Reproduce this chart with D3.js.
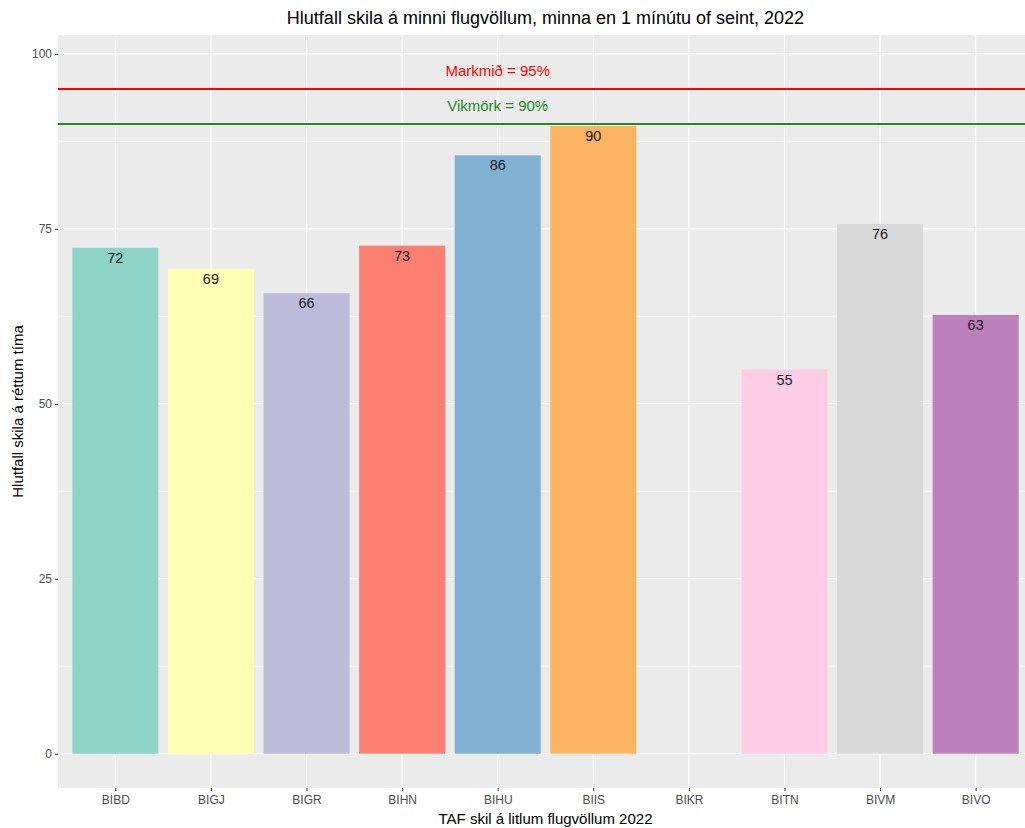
<!DOCTYPE html>
<html><head><meta charset="utf-8">
<script src="https://cdn.jsdelivr.net/npm/d3@7"></script>
<style>body{margin:0;background:#fff;} text{font-family:"Liberation Sans",Arial,sans-serif;}</style>
</head><body>
<svg id="c" width="1025" height="828"></svg>
<script>
const categories = ["BIBD","BIGJ","BIGR","BIHN","BIHU","BIIS","BIKR","BITN","BIVM","BIVO"];
const values = [72.3, 69.3, 65.8, 72.6, 85.5, 89.7, null, 54.9, 75.7, 62.7];
const colors = ["#8DD3C7","#FFFFB3","#BEBADA","#FB8072","#80B1D3","#FDB462","#B3DE69","#FCCDE5","#D9D9D9","#BC80BD"];
const yTicks = [0, 25, 50, 75, 100];
const yMinor = [12.5, 37.5, 62.5, 87.5];
const refLines = [{v:95, label:"Markmið = 95%", color:"#FF0000", labelV:97.5},
                  {v:90, label:"Vikmörk = 90%", color:"#228B22", labelV:92.5}];
const title = "Hlutfall skila á minni flugvöllum, minna en 1 mínútu of seint, 2022";
const xTitle = "TAF skil á litlum flugvöllum 2022";
const yTitle = "Hlutfall skila á réttum tíma";

const svg = d3.select("#c");
const L = 58, R = 1033, T = 35, B = 788;
const x = d3.scaleLinear().domain([0.4, categories.length + 0.6]).range([L, R]);
const y = d3.scaleLinear().domain([-4.9, 102.7]).range([B, T]);

svg.append("rect").attr("x", L).attr("y", T).attr("width", R - L).attr("height", B - T).attr("fill", "#EBEBEB");
const g = svg.append("g");
g.selectAll(".ymin").data(yMinor).join("line").attr("class", "ymin")
  .attr("x1", L).attr("x2", R).attr("y1", d => y(d)).attr("y2", d => y(d))
  .attr("stroke", "#fff").attr("stroke-width", 0.55);
g.selectAll(".ymaj").data(yTicks).join("line").attr("class", "ymaj")
  .attr("x1", L).attr("x2", R).attr("y1", d => y(d)).attr("y2", d => y(d))
  .attr("stroke", "#fff").attr("stroke-width", 1.1);
g.selectAll(".xmaj").data(categories).join("line").attr("class", "xmaj")
  .attr("x1", (d, i) => x(i + 1)).attr("x2", (d, i) => x(i + 1)).attr("y1", T).attr("y2", B)
  .attr("stroke", "#fff").attr("stroke-width", 1.1);

const data = categories.map((c, i) => ({c, i, v: values[i], col: colors[i]})).filter(d => d.v != null);
g.selectAll(".bar").data(data).join("rect").attr("class", "bar")
  .attr("x", d => x(d.i + 0.55)).attr("width", d => x(d.i + 1.45) - x(d.i + 0.55))
  .attr("y", d => y(d.v)).attr("height", d => y(0) - y(d.v)).attr("fill", d => d.col);

g.selectAll(".lbl").data(data).join("text").attr("class", "lbl")
  .attr("x", d => x(d.i + 1)).attr("y", d => y(d.v) + 15)
  .attr("text-anchor", "middle").attr("font-size", 14.5).attr("fill", "#1a1a1a")
  .text(d => Math.round(d.v));

refLines.forEach(r => {
  g.append("line").attr("x1", L).attr("x2", R).attr("y1", y(r.v)).attr("y2", y(r.v))
    .attr("stroke", r.color).attr("stroke-width", 2);
  g.append("text").attr("x", x(5)).attr("y", y(r.labelV) + 5).attr("text-anchor", "middle")
    .attr("font-size", 15).attr("fill", r.color).text(r.label);
});

const yAxis = d3.axisLeft(y).tickValues(yTicks).tickSize(3).tickPadding(3);
const ya = svg.append("g").attr("transform", `translate(${L},0)`).call(yAxis);
ya.select(".domain").remove();
ya.selectAll("line").attr("stroke", "#333");
ya.selectAll("text").attr("font-size", 12).attr("fill", "#4D4D4D").attr("font-family", "Liberation Sans, Arial, sans-serif");

const xAxis = d3.axisBottom(x).tickValues(categories.map((c, i) => i + 1)).tickFormat(d => categories[d - 1]).tickSize(3).tickPadding(4);
const xa = svg.append("g").attr("transform", `translate(0,${B})`).call(xAxis);
xa.select(".domain").remove();
xa.selectAll("line").attr("stroke", "#333");
xa.selectAll("text").attr("font-size", 12).attr("fill", "#4D4D4D").attr("font-family", "Liberation Sans, Arial, sans-serif");

svg.append("text").attr("x", (L + R) / 2).attr("y", 24).attr("text-anchor", "middle")
  .attr("font-size", 18).attr("fill", "#000").text(title);
svg.append("text").attr("x", (L + R) / 2).attr("y", 824).attr("text-anchor", "middle")
  .attr("font-size", 15).attr("fill", "#000").text(xTitle);
svg.append("text").attr("transform", `translate(23,${(T + B) / 2}) rotate(-90)`).attr("text-anchor", "middle")
  .attr("font-size", 15).attr("fill", "#000").text(yTitle);
</script>
</body></html>
